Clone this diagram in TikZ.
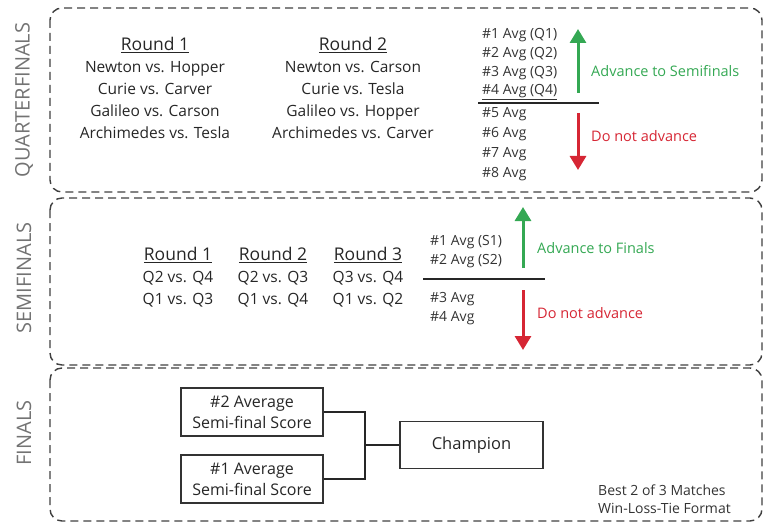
\documentclass[tikz,border=0pt]{standalone}
\usepackage{fontspec}
\setmainfont{Open Sans}
\usetikzlibrary{arrows.meta}
\usetikzlibrary{positioning}

\definecolor{advgreen}{RGB}{52,168,83}
\definecolor{stopred}{RGB}{214,38,52}

\newcommand{\roundhead}[1]{{\fontsize{17.5}{22}\selectfont\underline{#1}}}

\tikzset{
  stagebox/.style={draw=black!75, line width=1.4pt, dash pattern=on 8pt off 5pt, rounded corners=12pt},
  stagelabel/.style={rotate=90, text=black!55, font=\fontsize{20}{20}\selectfont},
  roundcol/.style={align=center, text=black!85, font=\fontsize{15.5}{22}\selectfont},
  avgtext/.style={anchor=west, inner sep=0pt, text=black!80, font=\fontsize{14}{14}\selectfont},
  movenote/.style={anchor=west, inner sep=0pt, font=\fontsize{14.5}{14.5}\selectfont},
  cutline/.style={line width=2pt, black!85},
  uparrow/.style={advgreen, line width=3pt, -{Triangle[length=14pt,width=16pt]}},
  downarrow/.style={stopred, line width=3pt, -{Triangle[length=14pt,width=16pt]}},
  seedbox/.style={draw=black!80, line width=1.2pt, minimum width=142pt, minimum height=48pt, align=center, text=black!85, font=\fontsize{16}{21}\selectfont},
  bracket/.style={draw=black!85, line width=1.8pt}
}

\begin{document}
\begin{tikzpicture}[x=1pt, y=-1pt]
  \useasboundingbox (0,0) rectangle (774,524);

  % stages
  \draw[stagebox] (50,8) rectangle (762,192);
  \draw[stagebox] (50,198) rectangle (762,365);
  \draw[stagebox] (50,368) rectangle (762,521);
  \node[stagelabel] (qlabel) at (24,100) {QUARTERFINALS};
  \node[stagelabel] (slabel) at (24,278) {SEMIFINALS};
  \node[stagelabel] (flabel) at (24,433) {FINALS};

  % quarterfinals
  \node[roundcol] (qround1) at (155,88) {\roundhead{Round 1}\\Newton vs. Hopper\\Curie vs. Carver\\Galileo vs. Carson\\Archimedes vs. Tesla};
  \node[roundcol] (qround2) at (353,88) {\roundhead{Round 2}\\Newton vs. Carson\\Curie vs. Tesla\\Galileo vs. Hopper\\Archimedes vs. Carver};
  \foreach \i/\y/\txt in {1/35/{\#1 Avg (Q1)}, 2/54/{\#2 Avg (Q2)}, 3/73/{\#3 Avg (Q3)}, 4/92/{\underline{\#4 Avg (Q4)}},
                          5/114/{\#5 Avg}, 6/134/{\#6 Avg}, 7/154/{\#7 Avg}, 8/174/{\#8 Avg}}
    \node[avgtext] (qavg\i) at (482,\y) {\txt};
  \coordinate (qcutl) at (478,103);
  \coordinate (qcutr) at (599,103);
  \draw[cutline] (qcutl) -- (qcutr);
  \coordinate (qupfrom) at (578,93);
  \coordinate (qupto) at (578,29);
  \coordinate (qdownfrom) at (578,113);
  \coordinate (qdownto) at (578,170);
  \draw[uparrow] (qupfrom) -- (qupto);
  \draw[downarrow] (qdownfrom) -- (qdownto);
  \node[movenote, text=advgreen] (qadvance) at (591,71) {Advance to Semifinals};
  \node[movenote, text=stopred] (qstay) at (591,136) {Do not advance};

  % semifinals
  \node[roundcol] (sround1) at (178,277) {\roundhead{Round 1}\\Q2 vs. Q4\\Q1 vs. Q3};
  \node[roundcol] (sround2) at (273,277) {\roundhead{Round 2}\\Q2 vs. Q3\\Q1 vs. Q4};
  \node[roundcol] (sround3) at (368,277) {\roundhead{Round 3}\\Q3 vs. Q4\\Q1 vs. Q2};
  \foreach \i/\y/\txt in {1/242/{\#1 Avg (S1)}, 2/261/{\#2 Avg (S2)}, 3/299/{\#3 Avg}, 4/318/{\#4 Avg}}
    \node[avgtext] (savg\i) at (430,\y) {\txt};
  \coordinate (scutl) at (423,279);
  \coordinate (scutr) at (545,279);
  \draw[cutline] (scutl) -- (scutr);
  \coordinate (supfrom) at (523,268);
  \coordinate (supto) at (523,207);
  \coordinate (sdownfrom) at (523,290);
  \coordinate (sdownto) at (523,350);
  \draw[uparrow] (supfrom) -- (supto);
  \draw[downarrow] (sdownfrom) -- (sdownto);
  \node[movenote, text=advgreen] (sadvance) at (537,248) {Advance to Finals};
  \node[movenote, text=stopred] (sstay) at (537,313) {Do not advance};

  % finals
  \node[seedbox] (seedtwo) at (252,412) {\#2 Average\\Semi-final Score};
  \node[seedbox] (seedone) at (252,479) {\#1 Average\\Semi-final Score};
  \node[seedbox, minimum width=143pt, minimum height=47pt, font=\fontsize{16.5}{21}\selectfont] (champ) at (471.5,445) {Champion};
  \coordinate (join) at (365,445);
  \draw[bracket] (seedtwo.east) -| (join) |- (seedone.east);
  \draw[bracket] (join) -- (champ.west);
  \node[anchor=west, align=left, inner sep=0pt, text=black!80, font=\fontsize{14}{18}\selectfont] (format) at (598,499) {Best 2 of 3 Matches\\Win-Loss-Tie Format};
\end{tikzpicture}
\end{document}
